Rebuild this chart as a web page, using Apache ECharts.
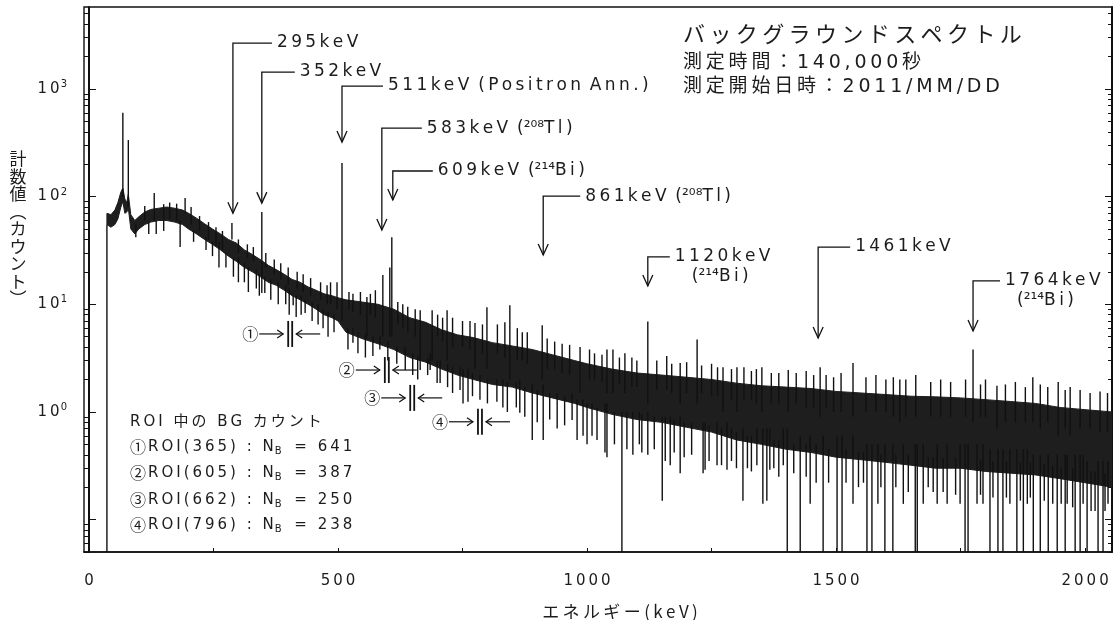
<!DOCTYPE html>
<html><head><meta charset="utf-8">
<script src="https://cdn.jsdelivr.net/npm/echarts@6/dist/echarts.min.js"></script>
<style>html,body{margin:0;padding:0;background:#fff}#c{width:1118px;height:620px}</style>
</head><body><div id="c"></div>
<script>
// ---------------- DATA ----------------
// spectrum body: energy (keV), lower and upper edge of the dense band (counts)
const bandE  = [36,44,52,58,64,68,72,76,79,84,92,100,112,124,140,156,172,188,200,216,232,248,264,280,296,312,328,344,360,376,392,408,424,440,456,472,488,500,516,548,580,612,644,676,708,740,772,810,850,890,930,975,1000,1050,1100,1150,1200,1250,1300,1350,1400,1450,1500,1550,1600,1650,1700,1750,1800,1850,1900,1950,2000,2054];
const bandLo = [55,52,55,62,80,90,70,72,78,50,45,50,55,58,60,60,58,55,50,45,40,36,32,28,25,22,20,18,16,15,13.5,12,11,10,9,8,7.5,7,5.5,4.8,4.3,3.8,3.2,2.9,2.5,2.2,2.0,1.8,1.7,1.5,1.35,1.2,1.1,0.95,0.85,0.8,0.72,0.65,0.55,0.5,0.45,0.42,0.38,0.36,0.34,0.32,0.3,0.3,0.28,0.27,0.26,0.24,0.22,0.2];
const bandHi = [70,68,75,88,110,120,95,88,105,68,60,65,72,76,78,80,78,75,70,63,56,50,45,40,37,32,29,26,23,21,19,17,16,14.5,13.5,12.5,12,11.5,11,10.5,10,9,7.5,6.8,5.8,5.2,4.9,4.4,4.1,3.8,3.4,3.0,2.8,2.5,2.3,2.2,2.1,2.0,1.85,1.75,1.7,1.65,1.55,1.5,1.45,1.4,1.38,1.35,1.3,1.25,1.2,1.1,1.05,1.0];

// single-channel spikes upward (peaks and upper noise): energy, base, top
const peakE  = [68,79,131,193,287,347,498,508,558,590,604,608,665,689,719,775,799,845,910,986,1040,1052,1076,1122,1187,1221,1273,1301,1351,1404,1468,1534,1628,1775,1823,1910,1946,1970,
  112,150,162,176,205,222,240,255,268,300,318,330,355,372,385,400,418,430,445,465,478,485,522,530,545,565,575,620,630,640,655,700,710,730,750,765,790,820,835,860,870,880,920,935,950,965,1005,1015,1030,1065,1090,1100,1140,1160,1170,1200,1230,1250,1262,1290,1315,1330,1340,1370,1385,1420,1440,1455,1480,1495,1510,1560,1580,1600,1615,1640,1660,1690,1710,1730,1760,1790,1800,1840,1860,1880,1895,1925,1960,1990,2010,2030,2045];
const peakLo = [100,80,60,70,40,18,9,7,5,5,5,5,3,3,3,2.5,2.5,2,2,1.5,1.5,1.5,1.5,1.2,1.2,1.2,1,1,1,1,0.9,0.9,0.8,0.8,0.7,0.7,0.6,0.6,
  60,62,62,60,55,48,40,35,32,30,27,25,22,19,17,15,14,13,12,11,10,10,9,8.5,8,8,7.5,6.5,6,5.5,5,5,4.5,4,4,3.8,3.5,3.5,3.2,3,3,2.8,2.5,2.5,2.3,2.2,2,2,1.9,1.8,1.7,1.7,1.6,1.6,1.5,1.5,1.5,1.4,1.4,1.3,1.3,1.3,1.2,1.2,1.2,1.2,1.1,1.1,1.1,1.0,1.0,1.0,1.0,1.0,0.9,0.9,0.9,0.9,0.9,0.9,0.9,0.9,0.9,0.8,0.8,0.8,0.8,0.8,0.7,0.7,0.7,0.65,0.65];
const peakHi = [600,335,108,97,57,72,16,205,11.7,18.7,22,42,8.8,8.8,8.8,6.7,9.4,9.8,6.4,4,3.8,3.8,3.5,6.9,2.85,4.7,2.6,2.6,2.6,2.45,2.6,2.85,2,3.8,1.75,1.8,1.9,1.7,
  82,85,88,86,80,66,58,52,48,40,36,34,30,26,24,22,20,19,17.5,16,15,16,13,12.5,13,12.5,13.5,10.5,10,9.5,9,8,7.5,7.5,7,7,6.5,6.5,6.8,6,5.5,5.5,4.8,4.5,4.3,4.2,3.8,3.5,3.4,3.2,3.2,3.0,3.0,3.3,2.8,2.9,2.7,2.8,2.6,2.5,2.6,2.4,2.5,2.3,2.3,2.3,2.4,2.2,2.2,2.1,2.3,2.1,2.2,2.0,2.1,2.0,2.2,1.9,2.0,1.9,2.0,1.8,2.0,1.8,1.9,1.7,2.1,1.7,1.6,1.6,1.5,1.55,1.5];

// single-channel spikes downward (dips and lower noise): energy, bottom, top
const dipE  = [36,94,183,261,347,353,410,416,434,530,584,635,665,685,699,705,751,761,819,831,865,890,912,970,980,992,1036,1040,1070,1092,1122,1151,1157,1167,1187,1233,1237,1261,1281,1313,1341,1353,1361,1367,1394,1402,1428,1448,1474,1502,1512,1534,1562,1572,1584,1598,1614,1635,1659,1663,1675,1703,1723,1749,1759,1765,1783,1795,1809,1825,1835,1849,1863,1876,1884,1896,1910,1926,1944,1960,1964,1980,1990,1996,2004,2026,2036,2046,
  120,135,150,210,235,248,275,290,300,312,320,336,342,365,380,395,402,426,448,460,470,480,492,520,540,555,570,600,618,650,660,680,720,730,745,770,785,800,840,858,875,900,925,940,955,1000,1010,1020,1055,1080,1105,1110,1135,1175,1195,1210,1245,1270,1290,1300,1322,1330,1375,1385,1415,1440,1460,1485,1520,1545,1555,1590,1620,1645,1685,1695,1715,1740,1790,1815,1842,1870,1890,1918,1935,1952,1975,2012,2020,2040];
const dipLo = [0.05,42,34,22,12.7,12.7,9.8,7.6,8.3,4.4,3.8,2.45,2.45,2.45,1.86,1.86,1.2,1.24,1.24,1.1,0.98,0.55,0.55,0.84,0.55,0.6,0.42,0.38,0.05,0.4,0.4,0.15,0.35,0.32,0.27,0.27,0.29,0.32,0.29,0.15,0.32,0.14,0.15,0.29,0.32,0.05,0.05,0.14,0.05,0.05,0.05,0.14,0.05,0.05,0.14,0.05,0.05,0.14,0.05,0.05,0.14,0.14,0.14,0.14,0.05,0.05,0.14,0.14,0.05,0.05,0.05,0.14,0.05,0.05,0.14,0.05,0.05,0.05,0.05,0.05,0.14,0.05,0.05,0.14,0.05,0.05,0.05,0.14,
  45,45,48,38,32,28,22,18,16,16,13,14,12,11,10,10,8,8,7,6.5,6,5,5.5,3.8,3.5,3.2,3.3,3,2.8,2.2,2,2.2,1.7,1.5,1.6,1.4,1.3,1.2,1.0,1.1,0.9,0.8,0.85,0.7,0.75,0.5,0.6,0.55,0.5,0.45,0.5,0.42,0.45,0.42,0.38,0.4,0.35,0.32,0.35,0.3,0.3,0.28,0.3,0.25,0.27,0.25,0.22,0.22,0.22,0.2,0.22,0.2,0.2,0.18,0.2,0.18,0.18,0.17,0.17,0.16,0.16,0.15,0.16,0.15,0.14,0.14,0.13,0.12,0.12,0.12];
const dipHi = [55,55,60,38,18,18,12,12,11,6,5,4,3.5,3.5,3,3,2.5,2.5,2,2,2,1.8,1.8,1.5,1.3,1.3,1.2,1.2,1.0,1.0,1.0,0.9,0.9,0.9,0.9,0.8,0.8,0.8,0.8,0.7,0.7,0.7,0.7,0.7,0.7,0.7,0.6,0.6,0.6,0.6,0.6,0.6,0.5,0.5,0.5,0.5,0.5,0.5,0.5,0.5,0.5,0.5,0.5,0.5,0.5,0.5,0.5,0.5,0.45,0.45,0.45,0.45,0.45,0.45,0.45,0.4,0.4,0.4,0.4,0.4,0.4,0.4,0.4,0.4,0.35,0.35,0.35,0.35,
  58,60,60,48,42,38,30,27,27,24,22,21,19,17,16,15,14,12,10.5,10,9,8.5,8,6,5.5,5.2,5,4.5,4,3.5,3.3,3.2,2.8,2.6,2.6,2.3,2.2,2.0,1.9,1.9,1.7,1.6,1.5,1.5,1.4,1.2,1.2,1.1,1.0,1.0,1.0,0.95,0.9,0.85,0.8,0.8,0.75,0.7,0.7,0.65,0.6,0.6,0.55,0.55,0.5,0.5,0.5,0.45,0.45,0.42,0.42,0.4,0.4,0.4,0.38,0.38,0.37,0.37,0.36,0.35,0.35,0.34,0.34,0.33,0.32,0.3,0.3,0.28,0.28,0.27];

// peak annotations: arrow x (keV), arrow tip value, corner value, label
const annE     = [289,347,508,588,610,912,1122,1464,1775];
const annTip   = [70,87,321,49,93,28.7,14.8,4.86,5.65];
const annTop   = [2670,1435,1064,433,173,101,27.5,34,16.5];
const annLabel = ['295keV','352keV','511keV (Positron Ann.)','583keV (\u00B2\u2070\u2078Tl)','609keV (\u00B2\u00B9\u2074Bi)','861keV (\u00B2\u2070\u2078Tl)','1120keV','1461keV','1764keV'];
const annSub   = ['','','','','','','(\u00B2\u00B9\u2074Bi)','','(\u00B2\u00B9\u2074Bi)'];

// ROI markers
const roiMark   = ['\u2460','\u2461','\u2462','\u2463'];
const roiE      = [404,598,649,785];
const roiLevel  = [5.3,2.45,1.35,0.81];
const roiCenter = [365,605,662,796];
const roiNB     = [641,387,250,238];

// axis labels
const xLabels = [0,500,1000,1500,2000];
const xTicks  = [0,250,500,750,1000,1250,1500,1750,2000];
const yLabels = [1,10,100,1000];
const yMajor  = [0.1,1,10,100,1000];

// ---------------- STYLE ----------------
const annSeg = [39,33,41,40,40,37,22,32,27];
const annSubDx = [0,0,0,0,0,0,17,0,12];
const INK = '#111';
const TXT = '#1c1c1c';
const LAT = '"DejaVu Sans", "Noto Sans CJK JP", sans-serif';
const CJK = '"Noto Sans CJK JP", "DejaVu Sans", sans-serif';
const TH = '\u2009';

function isCJK(c){ const k=c.codePointAt(0); return k>=0x2E80; }
function isSup(c){ return /[\u00B2\u00B3\u00B9\u2070-\u209F]/.test(c); }
function sp(s, space){
  const a = Array.from(s); let o='';
  for(let i=0;i<a.length;i++){
    o += (a[i]===' ' && space) ? space : a[i];
    if(i<a.length-1){
      const p=a[i], n=a[i+1];
      if(p===' '||n===' '||isSup(p)||isSup(n)) continue;
      o += TH;
    }
  }
  return o;
}
const minorVals=[];
for(let e=-2;e<=3;e++){ for(let k=2;k<=9;k++){ const v=k*Math.pow(10,e); if(v>=0.05 && v<=5770) minorVals.push(+v.toPrecision(3)); } }

const YMIN=0.05, YMAX=5770;
function yAx(pos, ticks, len, showLine, showLabel){
  return {type:'log', logBase:10, min:YMIN, max:YMAX, position:pos,
    axisLine:{show:showLine, lineStyle:{color:INK, width:2}},
    axisTick:{show:true, inside:true, length:len, customValues:ticks, lineStyle:{color:INK, width:1}},
    axisLabel:{show:showLabel, margin:17, color:TXT,
      formatter:function(v){ const e=Math.log10(v); const r=Math.round(e);
        if(Math.abs(e-r)>1e-6||r<0||r>3||yLabels.indexOf(Math.pow(10,r))<0) return ''; return '{b|1'+TH+'0}{s|'+r+'}'; },
      rich:{b:{fontFamily:LAT, fontSize:15, color:TXT, lineHeight:18}, s:{fontFamily:LAT, fontSize:10, color:TXT, lineHeight:18, padding:[0,0,9,1]}}},
    splitLine:{show:false}, minorTick:{show:false}};
}

const chart = echarts.init(document.getElementById('c'), null, {renderer:'canvas'});
const rowY = [447,473,500,525];
const option = {
  animation:false,
  backgroundColor:'#fff',
  grid:{left:84, right:6, top:7, bottom:68, show:true, borderColor:INK, borderWidth:1.4, containLabel:false, outerBoundsMode:'none'},
  xAxis:[{type:'value', min:-10, max:2054, position:'bottom',
    axisLine:{show:true, lineStyle:{color:INK, width:1.6}},
    axisTick:{show:true, inside:true, length:4, customValues:xTicks, lineStyle:{color:INK}},
    axisLabel:{customValues:xLabels, margin:22, color:TXT, fontFamily:LAT, fontSize:15, formatter:function(v){return sp(String(v));}},
    splitLine:{show:false}}],
  yAxis:[
    yAx('left', yMajor, 7, true, true),
    yAx('left', minorVals, 4, false, false),
    yAx('right', yMajor, 7, true, false),
    yAx('right', minorVals, 4, false, false)
  ],
  graphic:[
    {type:'text', x:683, y:34, style:{text:sp('バックグラウンドスペクトル'), font:'22px '+CJK, fill:TXT, verticalAlign:'middle'}},
    {type:'text', x:683, y:63, style:{text:sp('測定時間：140,000秒'), font:'19px '+LAT, fill:TXT, verticalAlign:'middle'}},
    {type:'text', x:683, y:87, style:{text:sp('測定開始日時：2011/MM/DD'), font:'19px '+LAT, fill:TXT, verticalAlign:'middle'}},
    {type:'text', x:18, y:150, style:{text:'計\n数\n値\n︵\nカ\nウ\nン\nト\n︶', font:'17px '+CJK, lineHeight:17.5, fill:TXT, align:'center', verticalAlign:'top'}},
    {type:'text', x:620, y:612, style:{text:sp('エネルギー(keV)'), font:'17px '+CJK, fill:TXT, align:'center', verticalAlign:'middle'}},
    {type:'text', x:130, y:422, style:{text:sp('ROI 中の BG カウント', ' '+TH+TH), font:'15px '+LAT, fill:TXT, verticalAlign:'middle'}}
  ].concat(roiMark.map(function(m,i){
    return {type:'text', x:130, y:rowY[i], style:{
      text:'{c|'+m+'}{t|'+sp('ROI('+roiCenter[i]+') : N', ' '+TH+TH)+'}{s|B}{t|'+sp(' = '+roiNB[i], ' '+TH+TH)+'}',
      verticalAlign:'middle',
      rich:{c:{font:'16px '+CJK, fill:TXT, lineHeight:20, padding:[0,2,0,0]}, t:{font:'15px '+LAT, fill:TXT, lineHeight:20}, s:{font:'10px '+LAT, fill:TXT, lineHeight:20, padding:[8,2,0,1]}}}};
  })),
  series:[
    {type:'custom', name:'band', coordinateSystem:'cartesian2d', xAxisIndex:0, yAxisIndex:0, clip:true, z:2,
      data: bandE.map(function(e,i){return [e,bandLo[i],bandHi[i]];}),
      encode:{x:0, y:[1,2]},
      renderItem:function(params, api){
        if(params.dataIndex!==0) return null;
        const top = bandE.map(function(e,i){return api.coord([e,bandHi[i]]);});
        const bot = bandE.map(function(e,i){return api.coord([e,bandLo[i]]);}).reverse();
        return {type:'polygon', shape:{points:top.concat(bot)}, style:{fill:'#1e1e1e', stroke:'#1e1e1e', lineWidth:1}};
      }},
    {type:'custom', name:'peaks', coordinateSystem:'cartesian2d', clip:true, z:3,
      data: peakE.map(function(e,i){return [e,peakLo[i],peakHi[i]];}),
      encode:{x:0, y:[1,2]},
      renderItem:function(params, api){
        const a=api.coord([api.value(0),api.value(1)]), b=api.coord([api.value(0),api.value(2)]);
        return {type:'line', shape:{x1:a[0],y1:a[1],x2:b[0],y2:b[1]}, style:{stroke:INK, lineWidth:1.4}};
      }},
    {type:'custom', name:'dips', coordinateSystem:'cartesian2d', clip:true, z:3,
      data: dipE.map(function(e,i){return [e,dipLo[i],dipHi[i]];}),
      encode:{x:0, y:[1,2]},
      renderItem:function(params, api){
        const a=api.coord([api.value(0),api.value(1)]), b=api.coord([api.value(0),api.value(2)]);
        return {type:'line', shape:{x1:a[0],y1:a[1],x2:b[0],y2:b[1]}, style:{stroke:INK, lineWidth:1.4}};
      }},
    {type:'custom', name:'annotations', coordinateSystem:'cartesian2d', clip:false, z:5,
      data: annE.map(function(e,i){return [e,annTip[i],annTop[i]];}),
      encode:{x:0, y:[1,2]},
      renderItem:function(params, api){
        const i=params.dataIndex;
        const tip=api.coord([api.value(0),api.value(1)]), c=api.coord([api.value(0),api.value(2)]);
        const L=annSeg[i];
        const kids=[
          {type:'polyline', shape:{points:[[c[0]+L,c[1]],[c[0],c[1]],[tip[0],tip[1]]]}, style:{stroke:INK, lineWidth:1.3, fill:null}},
          {type:'polyline', shape:{points:[[tip[0]-5,tip[1]-11],[tip[0],tip[1]],[tip[0]+5,tip[1]-11]]}, style:{stroke:INK, lineWidth:1.3, fill:null}},
          {type:'text', x:c[0]+L+5, y:c[1], style:{text:sp(annLabel[i], ' '+TH), font:'17px '+LAT, fill:TXT, verticalAlign:'middle'}}
        ];
        if(annSub[i]) kids.push({type:'text', x:c[0]+L+5+annSubDx[i], y:c[1]+20, style:{text:sp(annSub[i]), font:'17px '+LAT, fill:TXT, verticalAlign:'middle'}});
        return {type:'group', children:kids};
      }},
    {type:'custom', name:'roi', coordinateSystem:'cartesian2d', clip:false, z:5,
      data: roiE.map(function(e,i){return [e,roiLevel[i]];}),
      encode:{x:0, y:1},
      renderItem:function(params, api){
        const i=params.dataIndex;
        const p=api.coord([api.value(0),api.value(1)]); const x=p[0], y=p[1];
        const s={stroke:INK, lineWidth:1.2, fill:null};
        return {type:'group', children:[
          {type:'text', x:x-40, y:y, style:{text:roiMark[i], font:'16px '+CJK, fill:TXT, align:'center', verticalAlign:'middle'}},
          {type:'line', shape:{x1:x-31,y1:y,x2:x-7,y2:y}, style:s},
          {type:'polyline', shape:{points:[[x-13,y-4],[x-7,y],[x-13,y+4]]}, style:s},
          {type:'line', shape:{x1:x-2,y1:y-13,x2:x-2,y2:y+13}, style:{stroke:INK, lineWidth:1.8}},
          {type:'line', shape:{x1:x+2,y1:y-13,x2:x+2,y2:y+13}, style:{stroke:INK, lineWidth:1.8}},
          {type:'line', shape:{x1:x+6,y1:y,x2:x+30,y2:y}, style:s},
          {type:'polyline', shape:{points:[[x+12,y-4],[x+6,y],[x+12,y+4]]}, style:s}
        ]};
      }}
  ]
};
chart.setOption(option);
</script>
</body></html>
